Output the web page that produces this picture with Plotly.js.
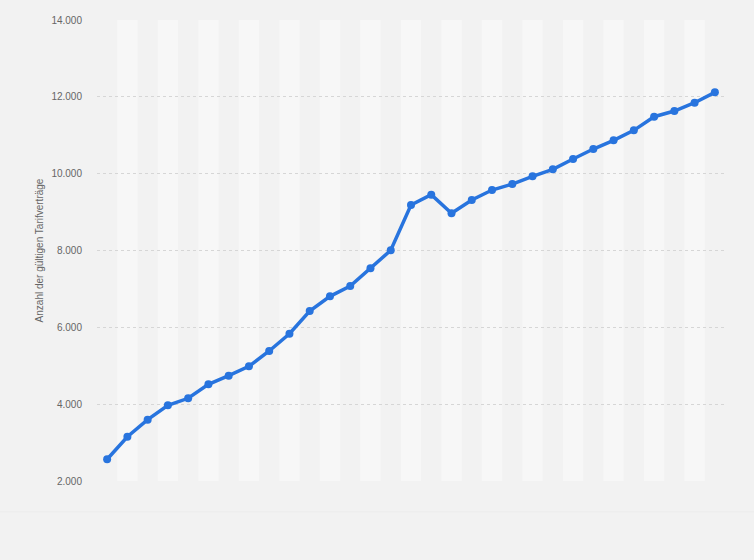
<!DOCTYPE html>
<html>
<head>
<meta charset="utf-8">
<script src="https://cdn.plot.ly/plotly-3.0.1.min.js"></script>
<style>html,body{margin:0;padding:0;background:#f2f2f2;}#chart{width:754px;height:560px;}</style>
</head>
<body>
<div id="chart"></div>
<script>
const years = ["1990","1991","1992","1993","1994","1995","1996","1997","1998","1999","2000","2001","2002","2003","2004","2005","2006","2007","2008","2009","2010","2011","2012","2013","2014","2015","2016","2017","2018","2019","2020"];
const contracts = [2565,3153,3596,3970,4153,4517,4741,4985,5384,5834,6425,6807,7075,7536,8005,9184,9452,8968,9314,9574,9730,9931,10113,10381,10641,10868,11128,11482,11630,11847,12117];
const yTicks = [2000,4000,6000,8000,10000,12000,14000];
const yTitle = "Anzahl der gültigen Tarifverträge";

const shapes = [];
years.forEach((y, i) => {
  if (i % 2 === 1) {
    shapes.push({type:'rect', xref:'x', yref:'paper', x0:i-0.5, x1:i+0.5, y0:0, y1:1,
      fillcolor:'#f7f7f7', line:{width:0}, layer:'below'});
  }
});
shapes.push({type:'line', xref:'paper', yref:'paper', x0:-0.2, x1:1.1, y0:-0.067, y1:-0.067,
  line:{color:'#ececec', width:1}});

const trace = {
  x: years.map((_, i) => i),
  y: contracts,
  type: 'scatter',
  mode: 'lines+markers',
  line: {color:'#2874de', width:3.5},
  marker: {color:'#2874de', size:8},
  hoverinfo: 'y'
};

const layout = {
  width: 754, height: 560,
  paper_bgcolor: '#f2f2f2',
  plot_bgcolor: '#f2f2f2',
  separators: ',.',
  margin: {l:97, r:29, t:20, b:79},
  font: {family:'"Liberation Sans", Arial, sans-serif', color:'#666', size:10},
  showlegend: false,
  xaxis: {range:[-0.5, 30.5], showticklabels:false, showgrid:false, zeroline:false, ticks:'', fixedrange:true},
  yaxis: {
    range:[2000, 14000], tickvals: yTicks, tickformat: ',d',
    showgrid: true, gridcolor:'#d6d6d6', griddash:'dot', gridwidth:1,
    zeroline:false, ticks:'', ticklen:0, ticklabelstandoff: 14,
    tickfont:{size:10, color:'#666'},
    title:{text:yTitle, font:{size:10, color:'#666'}, standoff:5}
  },
  shapes: shapes
};

Plotly.newPlot('chart', [trace], layout, {displayModeBar:false, staticPlot:true});
</script>
</body>
</html>
